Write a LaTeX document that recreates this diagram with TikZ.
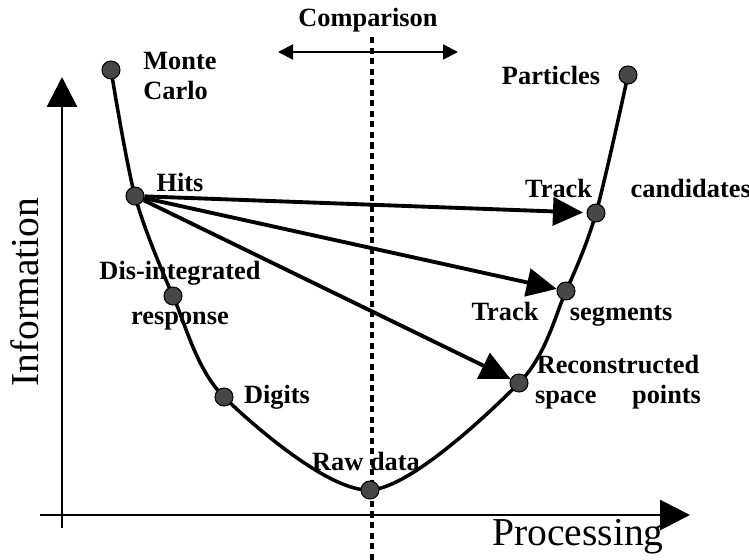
\documentclass[tikz,border=0pt]{standalone}
\usepackage{fontspec}
\setmainfont{Liberation Serif}
\usetikzlibrary{arrows.meta,positioning,backgrounds}
\tikzset{
  dot/.style={circle,draw=black,fill=black!72,inner sep=0pt,minimum size=3.6mm,line width=0.6pt},
  lab/.style={font=\fontsize{15}{17}\selectfont\bfseries,inner sep=0pt,align=center},
  axlab/.style={font=\fontsize{22.5}{24}\selectfont,inner sep=0pt},
  ax/.style={line width=1.7pt,-{Triangle[length=6mm,width=6mm]}},
  arr/.style={line width=2.2pt,-{Triangle[length=6mm,width=5.6mm]}},
  ucurve/.style={line width=2pt},
}

\begin{document}
\begin{tikzpicture}
  \useasboundingbox (0,0) rectangle (14.98,11.2);
  % axes
  \coordinate (ybot) at (1.24,0.64);
  \coordinate (ytop) at (1.24,9.66);
  \coordinate (xl) at (0.80,0.90);
  \coordinate (xr) at (13.80,0.90);
  \draw[ax] (ybot) -- (ytop);
  \draw[ax] (xl) -- (xr);
  \node[axlab,rotate=90] (info) at (0.50,5.36) {Information};
  \node[axlab] (proc) at (11.56,0.46) {Processing};
  % dots on the curve
  \node[dot] (mc)   at (2.22,9.80) {};
  \node[dot] (hits) at (2.70,7.28) {};
  \node[dot] (dis)  at (3.46,5.28) {};
  \node[dot] (dig)  at (4.48,3.26) {};
  \node[dot] (raw)  at (7.40,1.40) {};
  \node[dot] (rec)  at (10.38,3.54) {};
  \node[dot] (seg)  at (11.32,5.38) {};
  \node[dot] (cand) at (11.92,6.94) {};
  \node[dot] (part) at (12.56,9.70) {};
  \begin{scope}[on background layer]
    \draw[ucurve] plot[smooth] coordinates {(mc.center) (hits.center) (dis.center)
      (dig.center) (raw.center) (rec.center) (seg.center) (cand.center) (part.center)};
    % comparison line
    \coordinate (vtop) at (7.44,10.46);
    \coordinate (vbot) at (7.44,0);
    \draw[line width=2pt,dash pattern=on 3.5pt off 2.5pt] (vtop) -- (vbot);
  \end{scope}
  \coordinate (cl) at (5.56,10.16);
  \coordinate (cr) at (9.16,10.16);
  \draw[line width=1.1pt,{Triangle[length=3mm,width=3mm]}-{Triangle[length=3mm,width=3mm]}] (cl) -- (cr);
  \node[lab] (cmp) at (7.36,10.80) {Comparison};
  % arrows from hits
  \draw[arr,shorten >=2pt] (hits) -- (cand);
  \draw[arr] (hits) -- (seg);
  \draw[arr] (hits) -- (rec);
  % labels
  \node[lab,align=left,anchor=west] (lmc) at (2.86,9.68) {Monte\\Carlo};
  \node[lab] (lpart) at (11.02,9.70) {Particles};
  \node[lab] (lhits) at (3.60,7.56) {Hits};
  \node[lab] (lcand) at (12.76,7.44) {Track\hspace{0.64cm} candidates};
  \node[lab] (ldis) at (3.60,5.28) {Dis-integrated\\[0.3cm]response};
  \node[lab] (lseg) at (11.44,4.92) {Track\hspace{0.5cm} segments};
  \node[lab] (lrec) at (12.36,3.56) {Reconstructed\\space\hspace{0.58cm} points};
  \node[lab] (ldig) at (5.54,3.26) {Digits};
  \node[lab] (lraw) at (7.32,1.98) {Raw data};
\end{tikzpicture}
\end{document}
